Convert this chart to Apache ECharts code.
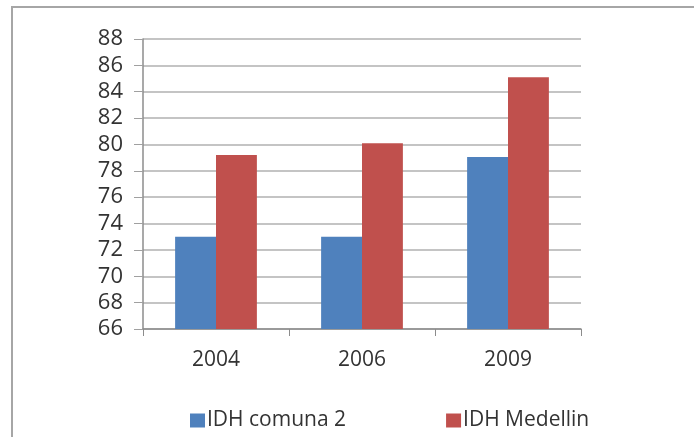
<!DOCTYPE html>
<html>
<head>
<meta charset="utf-8">
<script src="https://cdn.jsdelivr.net/npm/echarts@6/dist/echarts.min.js"></script>
<style>
  html, body { margin: 0; padding: 0; background: #fff; }
  #chart { width: 694px; height: 437px; }
</style>
</head>
<body>
<div id="chart"></div>
<script>
// datos
const years = ["2004", "2006", "2009"];
const comuna2 = [73, 73, 79.05];
const medellin = [79.2, 80.1, 85.1];
const seriesNames = ["IDH comuna 2", "IDH Medellin"];

const chart = echarts.init(document.getElementById("chart"));
const textColor = "#333333";
const font = "Open Sans";

chart.setOption({
  animation: false,
  // marco gris (solo arriba e izquierda visibles)
  graphic: [
    {
      type: "rect",
      shape: { x: 12, y: 7, width: 720, height: 470 },
      style: { fill: "none", stroke: "#a6a6a6", lineWidth: 2 },
      silent: true,
    },
  ],
  grid: { left: 143, right: 113, top: 39, bottom: 108 },
  legend: {
    left: 185,
    top: 405,
    itemWidth: 15,
    itemHeight: 14,
    itemGap: 100,
    icon: "rect",
    textStyle: { color: textColor, fontFamily: font, fontSize: 21, padding: [0, 0, 0, -3] },
    data: seriesNames,
  },
  xAxis: {
    type: "category",
    data: years,
    axisLine: { lineStyle: { color: "#8c8c8c", width: 1.5 } },
    axisTick: { show: true, length: 7, lineStyle: { color: "#8c8c8c" } },
    axisLabel: { color: textColor, fontFamily: font, fontSize: 21, margin: 21 },
  },
  yAxis: {
    type: "value",
    min: 66,
    max: 88,
    interval: 2,
    axisLine: { show: true, lineStyle: { color: "#8c8c8c", width: 1.5 } },
    axisTick: { show: true, length: 9, lineStyle: { color: "#a0a0a0" } },
    axisLabel: { color: textColor, fontFamily: font, fontSize: 22, margin: 20 },
    splitLine: { lineStyle: { color: "#b0b0b0", width: 1.5 } },
  },
  series: [
    {
      name: seriesNames[0],
      type: "bar",
      data: comuna2,
      barGap: "0%",
      barCategoryGap: "44%",
      itemStyle: { color: "#4f81bd" },
    },
    {
      name: seriesNames[1],
      type: "bar",
      data: medellin,
      itemStyle: { color: "#c0504d" },
    },
  ],
});
</script>
</body>
</html>
